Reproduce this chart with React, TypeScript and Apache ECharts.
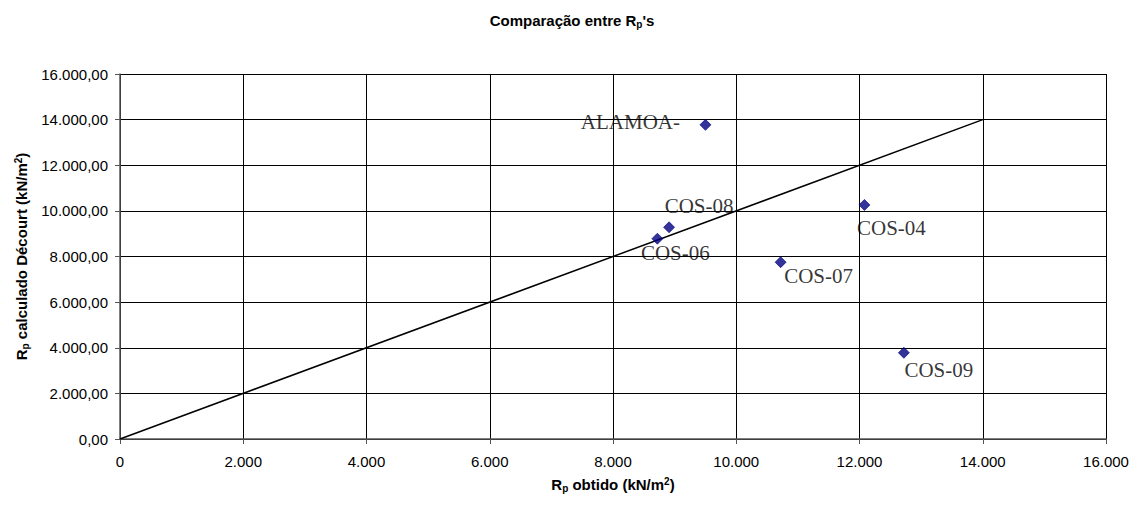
import React, { useEffect, useRef } from "react";
import * as echarts from "echarts";

const pointNames = ["ALAMOA-", "COS-08", "COS-06", "COS-04", "COS-07", "COS-09"];
const rpObtido = [9500, 8910, 8720, 12080, 10720, 12720];
const rpDecourt = [13770, 9280, 8780, 10260, 7750, 3780];
const refLineX = [0, 14000];
const refLineY = [0, 14000];
const axisMin = 0;
const axisMax = 16000;
const axisStep = 2000;

function thousands(v: number): string {
  return Math.round(v)
    .toString()
    .replace(/\B(?=(\d{3})+(?!\d))/g, ".");
}

const labelOffsetByName: Record<string, [number, number]> = {
  "ALAMOA-": [-75, -3],
  "COS-08": [30, -21],
  "COS-06": [18, 14],
  "COS-04": [27, 23],
  "COS-07": [38, 14],
  "COS-09": [35, 17],
};

export default function App() {
  const ref = useRef<HTMLDivElement>(null);
  useEffect(() => {
    if (!ref.current) return;
    const chart = echarts.init(ref.current, undefined, { renderer: "svg" });
    const sans = "'Liberation Sans', Arial, sans-serif";
    const serif = "'Liberation Serif', 'Times New Roman', serif";
    const richName = {
      b: { fontFamily: sans, fontWeight: "bold", fontSize: 15, color: "#000" },
      sub: { fontFamily: sans, fontWeight: "bold", fontSize: 10, color: "#000", verticalAlign: "bottom", padding: [7, 0, 0, 0] },
      sup: { fontFamily: sans, fontWeight: "bold", fontSize: 10, color: "#000", verticalAlign: "top", padding: [0, 0, 7, 0] },
    };
    chart.setOption({
      animation: false,
      backgroundColor: "#fff",
      title: {
        text: "{b|Comparação entre R}{sub|p}{b|'s}",
        left: 567,
        textAlign: "center",
        top: 7,
        textStyle: { rich: richName },
      },
      grid: { left: 120, right: 30, top: 74, bottom: 66 },
      xAxis: {
        type: "value",
        min: axisMin,
        max: axisMax,
        interval: axisStep,
        name: "{b|R}{sub|p}{b| obtido (kN/m}{sup|2}{b|)}",
        nameLocation: "middle",
        nameGap: 37,
        nameTextStyle: { rich: richName },
        axisLine: { show: true, onZero: false, lineStyle: { color: "#555", width: 1.5 } },
        axisTick: { show: true, inside: false, length: 5, lineStyle: { color: "#555" } },
        axisLabel: { fontFamily: sans, fontSize: 15, color: "#000", margin: 15, formatter: (v: number) => thousands(v) },
        splitLine: { show: true, lineStyle: { color: "#000", width: 1 } },
      },
      yAxis: {
        type: "value",
        min: axisMin,
        max: axisMax,
        interval: axisStep,
        name: "{b|R}{sub|p}{b| calculado Décourt (kN/m}{sup|2}{b|)}",
        nameLocation: "middle",
        nameGap: 86,
        nameRotate: 90,
        nameTextStyle: { rich: richName },
        axisLine: { show: true, onZero: false, lineStyle: { color: "#555", width: 1.5 } },
        axisTick: { show: true, inside: false, length: 5, lineStyle: { color: "#555" } },
        axisLabel: { fontFamily: sans, fontSize: 15, color: "#000", margin: 12, formatter: (v: number) => thousands(v) + ",00" },
        splitLine: { show: true, lineStyle: { color: "#000", width: 1 } },
      },
      series: [
        {
          type: "line",
          data: refLineX.map((x, i) => [x, refLineY[i]]),
          showSymbol: false,
          symbol: "none",
          lineStyle: { color: "#000", width: 1.5 },
          silent: true,
          z: 3,
        },
        {
          type: "scatter",
          symbol: "diamond",
          symbolSize: 11,
          itemStyle: { color: "#000080", borderColor: "#000080", borderWidth: 0.8 },
          z: 4,
          data: pointNames.map((n, i) => ({
            name: n,
            value: [rpObtido[i], rpDecourt[i]],
            label: {
              show: true,
              position: "inside",
              offset: labelOffsetByName[n],
              align: "center",
              verticalAlign: "middle",
              formatter: n,
              fontFamily: serif,
              fontSize: 21,
              color: "#000",
            },
          })),
        },
      ],
    });
    return () => chart.dispose();
  }, []);
  return (
    <div
      ref={ref}
      style={{ position: "absolute", left: 0, top: 0, width: 1136, height: 505 }}
    />
  );
}
